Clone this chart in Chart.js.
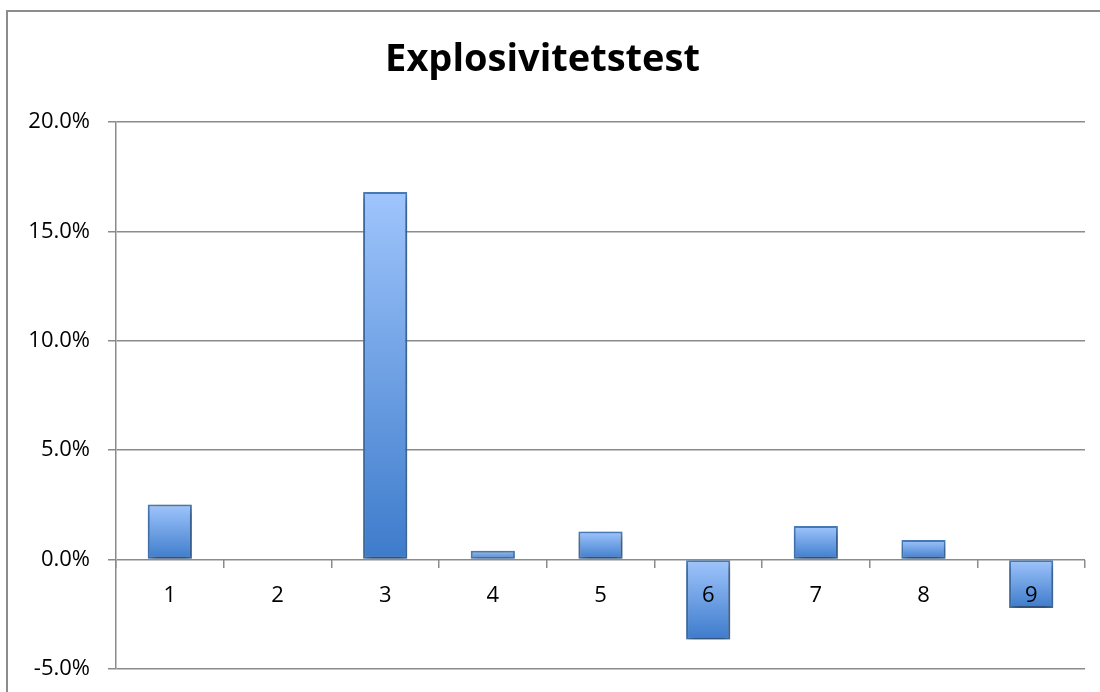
<!DOCTYPE html>
<html>
<head>
<meta charset="utf-8">
<script src="https://cdn.jsdelivr.net/npm/chart.js@4/dist/chart.umd.min.js"></script>
<style>
  html, body { margin: 0; padding: 0; background: #fff; }
  #wrap { width: 1100px; height: 692px; }
</style>
</head>
<body>
<div id="wrap"><canvas id="c" width="1100" height="692"></canvas></div>
<script>
// Test numbers and their change in percent
const categories = ['1', '2', '3', '4', '5', '6', '7', '8', '9'];
const changePct = [2.52, 0.0, 16.8, 0.41, 1.28, -3.65, 1.54, 0.90, -2.21];
const yTicks = [-5, 0, 5, 10, 15, 20];
const chartTitle = 'Explosivitetstest';

const FONT = '"Open Sans", Lato, sans-serif';
const GRID = '#8b8b8b';
const BAR_LIGHT = '#9fc5fc';
const BAR_DARK = '#3d7bcb';
const BAR_EDGE = '#4a7ebb';

// Vertical gradient per bar, light at the top edge and dark at the bottom edge
function barFill(ctx) {
  const chart = ctx.chart;
  if (!chart.chartArea || !chart.scales.y) return BAR_DARK;
  const v = ctx.dataset.data[ctx.dataIndex];
  const y = chart.scales.y;
  const top = y.getPixelForValue(Math.max(v, 0));
  const bot = y.getPixelForValue(Math.min(v, 0));
  if (bot - top < 1) return BAR_DARK;
  const g = chart.ctx.createLinearGradient(0, top, 0, bot);
  g.addColorStop(0, BAR_LIGHT);
  g.addColorStop(1, BAR_DARK);
  return g;
}

// White page with the grey frame along the top and left edges
const framePlugin = {
  id: 'frame',
  beforeDraw(chart) {
    const c = chart.ctx;
    c.save();
    c.fillStyle = '#fff';
    c.fillRect(0, 0, chart.width, chart.height);
    c.strokeStyle = '#8c8c8c';
    c.lineWidth = 2;
    c.beginPath();
    c.moveTo(7, chart.height);
    c.lineTo(7, 11);
    c.lineTo(chart.width, 11);
    c.stroke();
    c.restore();
  }
};

// Soft drop shadow under the bars
const shadowPlugin = {
  id: 'barShadow',
  beforeDatasetsDraw(chart) {
    const c = chart.ctx;
    c.save();
    c.shadowColor = 'rgba(0,0,0,0.45)';
    c.shadowBlur = 8;
    c.shadowOffsetX = 1;
    c.shadowOffsetY = 4;
  },
  afterDatasetsDraw(chart) {
    chart.ctx.restore();
  }
};

new Chart(document.getElementById('c'), {
  type: 'bar',
  data: {
    labels: categories,
    datasets: [{
      data: changePct,
      backgroundColor: barFill,
      borderColor: BAR_EDGE,
      borderWidth: 2,
      borderSkipped: false,
      barPercentage: 1,
      categoryPercentage: 0.41
    }]
  },
  options: {
    responsive: false,
    animation: false,
    devicePixelRatio: 1,
    layout: { padding: { left: 0, right: 15, top: 0, bottom: 23 } },
    plugins: {
      legend: { display: false },
      tooltip: { enabled: false },
      title: {
        display: true,
        text: chartTitle,
        color: '#000',
        font: { family: FONT, size: 38, weight: 'bold', lineHeight: 1.2 },
        padding: { top: 37, bottom: 39.4 }
      }
    },
    scales: {
      x: {
        position: { y: 0 },
        offset: true,
        grid: {
          display: true,
          drawOnChartArea: false,
          drawTicks: true,
          tickLength: 8,
          offset: true,
          color: GRID,
          lineWidth: 1.5
        },
        border: { display: false },
        ticks: {
          color: '#000',
          font: { family: FONT, size: 22 },
          padding: 15,
          maxRotation: 0,
          autoSkip: false,
          z: 1
        }
      },
      y: {
        min: -5,
        max: 20,
        afterFit(scale) {
          scale.width = 116;
          scale.paddingTop = 0;
          scale.paddingBottom = 0;
        },
        afterBuildTicks(scale) { scale.ticks = yTicks.map(v => ({ value: v })); },
        grid: {
          color: GRID,
          lineWidth: 1.5,
          tickLength: 8,
          drawTicks: true
        },
        border: { display: true, color: GRID, width: 1.5 },
        ticks: {
          color: '#000',
          font: { family: FONT, size: 22 },
          padding: 18,
          callback: v => v.toFixed(1) + '%'
        }
      }
    }
  },
  plugins: [framePlugin, shadowPlugin]
});
</script>
</body>
</html>
